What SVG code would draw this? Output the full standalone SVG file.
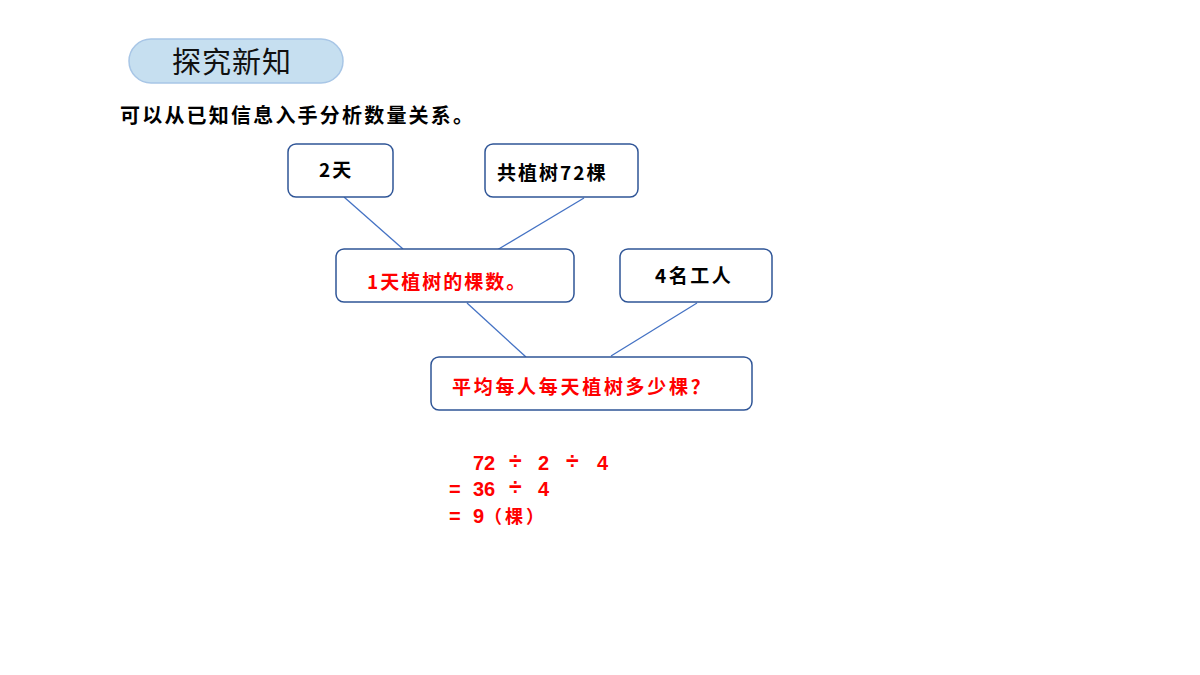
<svg xmlns="http://www.w3.org/2000/svg" width="1200" height="675" viewBox="0 0 1200 675">
<style>
.box{fill:#ffffff;stroke:#2f5597;stroke-width:1.5}
.conn{stroke:#4472c4;stroke-width:1.3;fill:none}
.t{font-family:"Noto Sans CJK SC","Liberation Sans",sans-serif;font-weight:bold;font-size:19px;fill:#000;letter-spacing:2px}
.r{fill:#ff0000}
.m{font-family:"Liberation Sans","Noto Sans CJK SC",sans-serif;font-weight:bold;font-size:20px;fill:#ff0000}
.d{font-family:"Liberation Sans",sans-serif;font-weight:bold;font-size:23px;fill:#ff0000}
</style>
<rect width="1200" height="675" fill="#ffffff"/>
<g id="header">
<rect x="129" y="39" width="214" height="44" rx="22" fill="#c6dff0" stroke="#a8c6e6" stroke-width="1.5"/>
<text x="172" y="73" font-family="Noto Sans CJK SC,sans-serif" font-size="29" fill="#111" letter-spacing="1">探究新知</text>
</g>
<g id="subtitle">
<text x="120" y="123" class="t" style="font-size:20px;letter-spacing:2.2px">可以从已知信息入手分析数量关系。</text>
</g>
<g id="connectors">
<line class="conn" x1="344" y1="197" x2="403" y2="249"/>
<line class="conn" x1="584" y1="198" x2="497" y2="250"/>
<line class="conn" x1="467" y1="303" x2="526" y2="357"/>
<line class="conn" x1="697" y1="303" x2="611" y2="356"/>
</g>
<g id="node-2days">
<rect class="box" x="288" y="144" width="105" height="53" rx="8"/>
<text class="t" x="319" y="177">2天</text>
</g>
<g id="node-72trees">
<rect class="box" x="485" y="144" width="153" height="53" rx="8"/>
<text class="t" x="497" y="180">共植树72棵</text>
</g>
<g id="node-1day">
<rect class="box" x="336" y="249" width="238" height="53" rx="8"/>
<text class="t r" x="367" y="289">1天植树的棵数。</text>
</g>
<g id="node-4workers">
<rect class="box" x="620" y="249" width="152" height="53" rx="8"/>
<text class="t" x="655" y="283" style="letter-spacing:2.5px">4名工人</text>
</g>
<g id="node-question">
<rect class="box" x="431" y="357" width="321" height="53" rx="8"/>
<text class="t r" x="452" y="394" style="letter-spacing:2.7px">平均每人每天植树多少棵？</text>
</g>
<g id="calc">
<text class="m" x="473" y="470">72</text>
<text class="d" x="509" y="469">÷</text>
<text class="m" x="538" y="470">2</text>
<text class="d" x="566" y="469">÷</text>
<text class="m" x="597" y="470">4</text>
<text class="m" x="449" y="496">=</text>
<text class="m" x="473" y="496">36</text>
<text class="d" x="509" y="495">÷</text>
<text class="m" x="538" y="496">4</text>
<text class="m" x="449" y="523">=</text>
<text class="m" x="473" y="523">9</text>
<text x="484" y="523" style="font-family:'Noto Sans CJK SC',sans-serif;font-weight:bold;font-size:18px;fill:#ff0000;letter-spacing:3px">（棵）</text>
</g>
</svg>
